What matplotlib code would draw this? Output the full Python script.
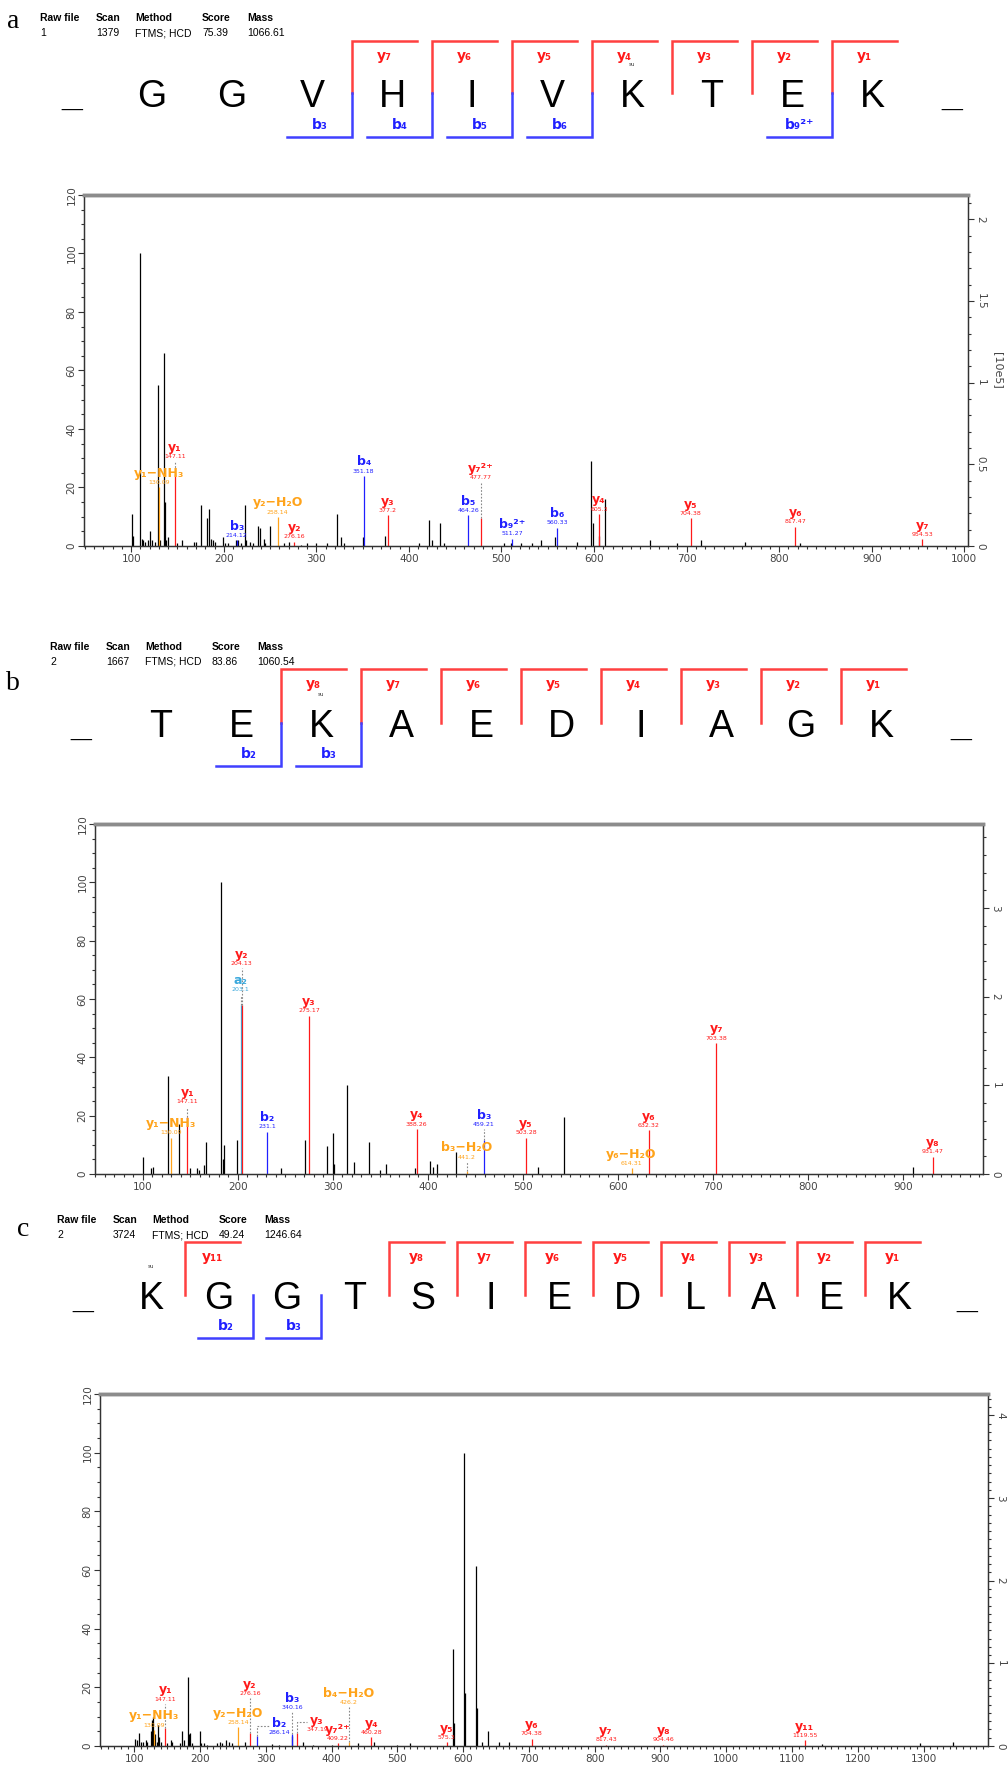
import numpy as np
import matplotlib.pyplot as plt
from matplotlib.ticker import MultipleLocator, FormatStrFormatter

W, H = 1008, 1766
RED, BLUE, ORANGE, SKY = '#ff1a1a', '#2020ff', '#ffa31a', '#3aa8dc'
RED_L, BLUE_L = '#ff4040', '#4040ff'

# ---------------- header data ----------------
info_cols = ["Raw file", "Scan", "Method", "Score", "Mass"]
info_a = ["1", "1379", "FTMS; HCD", "75.39", "1066.61"]
info_b = ["2", "1667", "FTMS; HCD", "83.86", "1060.54"]
info_c = ["2", "3724", "FTMS; HCD", "49.24", "1246.64"]

seq_a = "GGVHIVKTEK"
seq_b = "TEKAEDIAGK"
seq_c = "KGGTSIEDLAEK"

y_sites_a = [7, 6, 5, 4, 3, 2, 1]
b_sites_a = [3, 4, 5, 6, 9]
b_charge_a = [1, 1, 1, 1, 2]
y_sites_b = [8, 7, 6, 5, 4, 3, 2, 1]
b_sites_b = [2, 3]
b_charge_b = [1, 1]
y_sites_c = [11, 8, 7, 6, 5, 4, 3, 2, 1]
b_sites_c = [2, 3]
b_charge_c = [1, 1]
su_a, su_b, su_c = 6, 2, 0

# ---------------- spectrum data ----------------
# panel a, unassigned peaks
bg_mz_a = [101, 101.6, 110, 111.5, 113, 115, 118, 120, 123, 126,
           128.5, 131, 135.5, 136.6, 138, 140, 150, 155, 168, 170,
           175, 181.5, 184, 186, 188, 190, 199, 201, 205, 213,
           215, 219, 223, 224.5, 228, 232, 237, 239, 243, 245,
           250, 265, 270, 283, 290, 300, 311, 322.5, 327, 330,
           350, 374, 411, 421.5, 425, 433.5, 438, 503, 510, 521,
           533, 543, 558, 582, 597, 598.5, 605, 612, 660, 690,
           716, 763, 822]
bg_int_a = [11, 3.5, 100, 2.5, 2, 1.5, 2, 5, 2, 1.5,
            55, 2, 66, 15, 2, 3, 1, 2, 1.5, 1.5,
            14, 9.5, 12.5, 2.5, 2, 1.5, 3, 1, 1, 2,
            2, 1, 14, 2, 1.5, 1, 7, 6, 2.5, 1,
            7, 1, 1.5, 0.5, 1, 1, 1, 11, 3, 1,
            3, 3.5, 1, 9, 2, 8, 1, 1, 1, 1,
            1, 2, 3, 1.5, 29, 8, 3.5, 16, 2, 1,
            2, 1.5, 1]
ann_mz_a = [130.09, 147.11, 214.12, 258.14, 276.16, 351.18, 377.2, 464.26,
            477.77, 511.27, 560.33, 605.3, 704.38, 817.47, 954.53]
ann_int_a = [20, 24.5, 2, 10, 1.5, 24, 10.5, 10.5, 9.5, 2.5, 6.3, 11, 9.5, 6.6, 2.3]
ann_name_a = ["y₁−NH₃", "y₁", "b₃", "y₂−H₂O", "y₂", "b₄", "y₃", "b₅",
              "y₇²⁺", "b₉²⁺", "b₆", "y₄", "y₅", "y₆", "y₇"]

# panel b
bg_mz_b = [101, 109, 110.5, 127, 138, 150, 157, 159, 165, 166.5,
           183, 184.5, 186, 199, 246, 271, 294, 300, 301, 315.5,
           322, 338, 350, 356, 387, 402, 406, 410, 430, 516,
           543, 910]
bg_int_b = [6, 2, 2.3, 33.5, 17, 2, 2, 1.5, 3, 11,
            100, 5, 10, 11.5, 2, 11.5, 9.5, 14, 3.5, 30.5,
            4, 11, 1.5, 3.5, 2, 4.5, 2.5, 3.5, 7.5, 2.5,
            19.5, 2.5]
ann_mz_b = [130.09, 147.11, 203.1, 204.13, 231.1, 275.17, 388.26, 441.2,
            459.21, 503.28, 614.31, 632.32, 703.38, 931.47]
ann_int_b = [12.5, 19.5, 58, 58, 14.5, 54.3, 15.5, 1, 11.5, 12.5, 2, 15, 45, 6]
ann_name_b = ["y₁−NH₃", "y₁", "a₂", "y₂", "b₂", "y₃", "y₄", "b₃−H₂O",
              "b₃", "y₅", "y₆−H₂O", "y₆", "y₇", "y₈"]

# panel c
bg_mz_c = [101, 104, 108, 110, 114, 118, 120, 126, 127, 128,
           132, 134, 136, 138, 140, 150, 156, 158, 170, 173,
           175, 182, 183, 185, 188, 200, 202, 206, 210, 226,
           230, 233, 240, 244, 248, 268, 310, 320, 340, 356,
           372, 400, 440, 465, 500, 520, 585, 586, 602, 603,
           620, 621, 628, 638, 655, 670, 1145, 1295, 1345]
bg_int_c = [2.5, 2, 4.5, 1.5, 1.5, 2, 1.5, 5, 9, 10,
            4, 1.5, 7, 3, 1.5, 1, 2, 1.5, 1, 5,
            2, 23.5, 4, 4.5, 1, 5, 1, 1, 0.5, 1,
            1.5, 1, 2, 1.5, 1, 1.5, 0.8, 0.5, 3.5, 1.5,
            0.5, 0.5, 1, 1.5, 0.5, 1, 33, 8, 100, 18,
            61.5, 13, 1.5, 5, 1.5, 1.5, 0.8, 1, 1.5]
ann_mz_c = [130.09, 147.11, 258.14, 276.16, 286.14, 340.16, 347.19, 409.22,
            426.2, 460.28, 575.3, 704.38, 817.43, 904.46, 1119.55]
ann_int_c = [5.5, 6, 6.5, 4.5, 3.5, 4, 4.5, 1, 1.5, 3, 1.3, 2.5, 0.5, 0.5, 2]
ann_name_c = ["y₁−NH₃", "y₁", "y₂−H₂O", "y₂", "b₂", "b₃", "y₃", "y₇²⁺",
              "b₄−H₂O", "y₄", "y₅", "y₆", "y₇", "y₈", "y₁₁"]

# label layout: raised label levels and side leaders
lift_a = {"y₁": 29, "y₇²⁺": 21.7}
lift_b = {"y₁": 23.1, "y₂": 70.5, "a₂": 61.5, "b₃−H₂O": 4.2, "b₃": 15.3}
lift_c = {"y₁": 14.4, "y₂": 16.2, "b₃": 11.6, "b₄−H₂O": 13.3, "b₂": 3.0, "y₃": 4.0}
leader_c = {"b₂": (6.9, 307, 320), "y₃": (8.3, 363, 378)}

SUB = str.maketrans("0123456789", "₀₁₂₃₄₅₆₇₈₉")

fig = plt.figure(figsize=(W / 100, H / 100), dpi=100)
hdr = fig.add_axes([0, 0, 1, 1])
hdr.set_xlim(0, W)
hdr.set_ylim(H, 0)
hdr.axis('off')


def ion_color(name):
    if '−' in name:
        return ORANGE
    if name.startswith('a'):
        return SKY
    if name.startswith('b'):
        return BLUE
    return RED


def draw_header(tag, tag_xy, info, info_xy, seq, x0, step, ys,
                y_sites, b_sites, b_charge, su_idx):
    y_top, y_mid, y_bot = ys
    hdr.text(tag_xy[0], tag_xy[1], tag, fontsize=20, family='Liberation Serif',
             ha='center', va='center')
    for off, col, val in zip([0, 56, 95, 162, 207], info_cols, info):
        hdr.text(info_xy[0] + off, info_xy[1], col, fontsize=7.5, fontweight='bold',
                 family='Liberation Sans', va='center')
        hdr.text(info_xy[0] + off, info_xy[1] + 15, val, fontsize=7.5,
                 family='Liberation Sans', va='center')
    n = len(seq)
    xs = x0 + step * np.arange(n)
    for x, ch in zip(xs, seq):
        hdr.text(x, y_mid + 14, ch, fontsize=27, family='Liberation Sans',
                 ha='center', va='baseline')
    for x in (xs[0] - step, xs[-1] + step):
        hdr.text(x, y_mid + 14, '_', fontsize=27, family='Liberation Sans',
                 fontweight='bold', ha='center', va='baseline')
    hl = 0.81 * step
    for k in y_sites:
        bx = xs[n - k - 1] + step / 2
        hdr.plot([bx, bx, bx + hl], [y_mid, y_top, y_top], color=RED_L, lw=1.8,
                 solid_joinstyle='miter')
        hdr.text(bx + hl / 2, y_top + 15, 'y' + str(k).translate(SUB), color=RED,
                 fontsize=10, fontweight='bold', ha='center', va='center')
    for k, z in zip(b_sites, b_charge):
        bx = xs[k - 1] + step / 2
        hdr.plot([bx, bx, bx - hl], [y_mid, y_bot, y_bot], color=BLUE_L, lw=1.8,
                 solid_joinstyle='miter')
        nm = 'b' + str(k).translate(SUB) + ('²⁺' if z == 2 else '')
        hdr.text(bx - hl / 2, y_bot - 12, nm, color=BLUE,
                 fontsize=10, fontweight='bold', ha='center', va='center')
    hdr.text(xs[su_idx], y_mid - 28, 'su', fontsize=4, color='#333333',
             ha='center', va='center')


def style_ticks(a):
    a.tick_params(which='both', direction='out', width=0.8, colors='#333333',
                  labelsize=7.5, labelcolor='#444444', pad=1.5)
    a.tick_params(which='major', length=4)
    a.tick_params(which='minor', length=2.2)


def draw_spectrum(rect, xlim, scale, rstep, rminor, bg_mz, bg_int,
                  mz, inten, names, lifts, leaders, unit_label=True):
    l, t, r, b = rect
    ax = fig.add_axes([l / W, 1 - b / H, (r - l) / W, (b - t) / H])
    ax.vlines(bg_mz, 0, bg_int, color='black', lw=0.9)
    # draw a-ions first so the overlapping y-ion line stays on top
    order = sorted(range(len(mz)), key=lambda i: names[i] != 'a₂')
    for i in order:
        m, v, nm = mz[i], inten[i], names[i]
        c = ion_color(nm)
        ax.vlines(m, 0, v, color=c, lw=0.9)
        base = lifts.get(nm, v)
        lx = m
        if nm in leaders:
            lev, x_end, lx = leaders[nm]
            ax.plot([m, m, x_end], [v, lev, lev], ls=(0, (1.5, 1.5)), color='#888888', lw=0.8)
        elif base > v:
            ax.plot([m, m], [v, base], ls=(0, (1.5, 1.5)), color='#888888', lw=0.8)
        ax.annotate(nm, (lx, base), xytext=(0, 10), textcoords='offset points',
                    ha='center', va='center', color=c, fontsize=9, fontweight='bold')
        ax.annotate(f'{m:g}', (lx, base), xytext=(0, 3.4), textcoords='offset points',
                    ha='center', va='center', color=c, fontsize=4.5)
    ax.set_xlim(*xlim)
    ax.set_ylim(0, 120)
    ax.xaxis.set_major_locator(MultipleLocator(100))
    ax.xaxis.set_minor_locator(MultipleLocator(10))
    ax.yaxis.set_major_locator(MultipleLocator(20))
    ax.yaxis.set_minor_locator(MultipleLocator(5))
    style_ticks(ax)
    ax.tick_params(axis='y', labelrotation=90)
    for lab in ax.get_yticklabels():
        lab.set_va('center')

    ax2 = ax.twinx()
    ax2.set_ylim(0, 120 * scale / 100)
    ax2.yaxis.set_major_locator(MultipleLocator(rstep))
    ax2.yaxis.set_minor_locator(MultipleLocator(rminor))
    ax2.yaxis.set_major_formatter(FormatStrFormatter('%g'))
    style_ticks(ax2)
    ax2.tick_params(axis='y', labelrotation=-90)
    for lab in ax2.get_yticklabels():
        lab.set_va('center')
    for a in (ax, ax2):
        a.spines['top'].set_color('#8c8c8c')
        a.spines['top'].set_linewidth(2.5)
        for s in ('left', 'right', 'bottom'):
            a.spines[s].set_color('#333333')
            a.spines[s].set_linewidth(0.9)
    if unit_label:
        ax2.text(1 + 30 / (r - l), 0.5, '[10e5]', transform=ax2.transAxes, rotation=-90,
                 ha='center', va='center', fontsize=8, color='#444444', clip_on=False)
    return ax


# panel a
draw_header('a', (13, 21), info_a, (40, 18), seq_a, 152, 80, (41, 93, 137),
            y_sites_a, b_sites_a, b_charge_a, su_a)
draw_spectrum((84, 195, 968, 546), (49, 1004), 1.79, 0.5, 0.1,
              bg_mz_a, bg_int_a, ann_mz_a, ann_int_a, ann_name_a, lift_a, {})

# panel b
draw_header('b', (13, 683), info_b, (50, 647), seq_b, 161, 80, (669, 723, 766),
            y_sites_b, b_sites_b, b_charge_b, su_b)
draw_spectrum((95, 824, 983, 1174), (50, 984), 3.29, 1, 0.2,
              bg_mz_b, bg_int_b, ann_mz_b, ann_int_b, ann_name_b, lift_b, {})

# panel c
draw_header('c', (23, 1230), info_c, (57, 1220), seq_c, 151, 68, (1242, 1295, 1338),
            y_sites_c, b_sites_c, b_charge_c, su_c)
draw_spectrum((100, 1394, 988, 1746), (48, 1398), 3.55, 1, 0.1,
              bg_mz_c, bg_int_c, ann_mz_c, ann_int_c, ann_name_c, lift_c, leader_c,
              unit_label=False)

fig.savefig('out.png', dpi=100, facecolor='white')
